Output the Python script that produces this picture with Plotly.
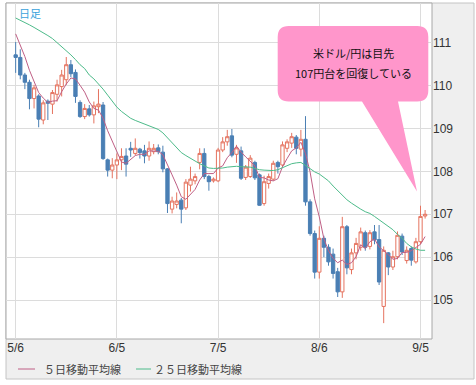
import plotly.graph_objects as go

# ---------------- data ----------------
dates = ["5/6","5/7","5/8","5/9","5/10","5/13","5/14","5/15","5/16","5/17",
         "5/20","5/21","5/22","5/23","5/24","5/27","5/28","5/29","5/30","5/31",
         "6/3","6/4","6/5","6/6","6/7","6/10","6/11","6/12","6/13","6/14",
         "6/17","6/18","6/19","6/20","6/21","6/24","6/25","6/26","6/27","6/28",
         "7/1","7/2","7/3","7/4","7/5","7/8","7/9","7/10","7/11","7/12",
         "7/15","7/16","7/17","7/18","7/19","7/22","7/23","7/24","7/25","7/26",
         "7/29","7/30","7/31","8/1","8/2","8/5","8/6","8/7","8/8","8/9",
         "8/12","8/13","8/14","8/15","8/16","8/19","8/20","8/21","8/22","8/23",
         "8/26","8/27","8/28","8/29","8/30","9/2","9/3","9/4","9/5","9/6"]

open_ = [110.72,110.66,110.25,110.08,109.70,109.76,109.20,109.64,109.57,109.80,
         109.98,110.14,110.49,110.31,109.61,109.28,109.46,109.32,109.51,109.55,
         108.27,108.03,108.15,108.27,108.36,108.54,108.42,108.52,108.48,108.36,
         108.46,108.55,108.45,108.06,107.12,107.23,107.33,107.15,107.68,107.78,
         108.21,108.42,107.88,107.78,107.78,108.50,108.69,108.83,108.40,108.48,
         107.86,107.88,108.21,107.92,107.25,107.72,107.82,108.21,108.15,108.54,
         108.66,108.80,108.52,108.75,107.29,106.55,105.65,106.44,106.23,106.07,
         105.66,105.19,106.71,105.71,106.10,106.23,106.57,106.25,106.59,106.41,
         104.85,106.10,105.77,106.01,106.49,105.92,106.20,105.89,106.36,106.96]
high = [111.02,110.85,110.30,110.14,110.02,109.80,109.66,109.68,109.90,110.14,
        110.37,110.67,110.60,110.38,109.66,109.57,109.55,109.63,109.92,109.62,
        108.30,108.31,108.42,108.54,108.54,108.69,108.77,108.55,108.62,108.70,
        108.64,108.63,108.60,108.08,107.41,107.51,107.38,107.82,108.11,107.95,
        108.54,108.54,107.92,107.86,108.55,108.80,108.97,108.99,108.62,108.58,
        108.15,108.38,108.25,107.95,107.90,107.95,108.25,108.25,108.70,108.75,
        108.90,108.85,108.97,109.29,107.35,106.62,106.72,106.50,106.30,106.20,
        105.75,106.94,106.75,106.20,106.45,106.69,106.62,106.63,106.75,106.75,
        106.25,106.12,106.15,106.60,106.55,106.25,106.25,106.45,107.20,107.10]
low = [110.30,110.15,109.92,109.45,109.47,109.03,109.10,109.20,109.34,109.63,
       109.75,110.02,110.20,109.60,109.25,109.22,109.28,109.12,109.36,108.27,
       107.88,107.84,107.82,108.03,107.88,108.34,108.38,108.30,108.19,108.25,
       108.40,108.40,107.98,107.03,107.02,107.14,106.79,107.10,107.53,107.70,
       108.05,107.82,107.55,107.74,107.75,108.45,108.60,108.33,108.20,107.80,
       107.80,107.85,107.80,107.20,107.20,107.60,107.78,107.95,108.10,108.45,
       108.55,108.40,108.35,107.20,106.50,105.50,105.50,106.00,105.80,105.50,
       105.07,105.05,105.60,105.60,105.95,106.15,106.15,106.18,106.30,105.35,
       104.46,105.58,105.70,105.95,106.05,105.85,105.80,105.85,106.30,106.90]
close = [110.66,110.25,110.08,109.70,109.95,109.22,109.60,109.59,109.84,110.02,
         110.25,110.49,110.28,109.75,109.28,109.47,109.32,109.53,109.57,108.30,
         108.03,108.15,108.27,108.35,108.17,108.50,108.54,108.44,108.36,108.54,
         108.54,108.46,108.06,107.25,107.31,107.31,107.12,107.75,107.82,107.88,
         108.42,107.88,107.76,107.82,108.50,108.69,108.81,108.38,108.55,107.84,
         108.10,108.31,107.85,107.21,107.76,107.88,108.19,108.11,108.62,108.69,
         108.81,108.54,108.75,107.29,106.55,105.65,106.44,106.23,105.89,105.62,
         105.19,106.71,105.75,106.10,106.32,106.59,106.23,106.57,106.40,105.42,
         106.16,105.77,106.01,106.51,106.12,106.16,105.93,106.36,106.95,107.00]

ma5 = [111.21,110.95,110.68,110.36,110.10,109.84,109.71,109.61,109.64,109.65,
       109.86,110.04,110.18,110.16,110.01,109.85,109.62,109.47,109.43,109.24,
       108.95,108.72,108.46,108.22,108.19,108.29,108.37,108.40,108.40,108.48,
       108.48,108.47,108.39,108.17,107.92,107.68,107.41,107.35,107.46,107.58,
       107.80,107.95,107.95,107.95,108.08,108.13,108.32,108.44,108.59,108.45,
       108.34,108.24,108.13,107.86,107.85,107.80,107.78,107.83,108.11,108.30,
       108.48,108.55,108.68,108.42,107.99,107.36,106.94,106.43,106.15,105.97,
       105.87,105.93,105.83,105.87,106.01,106.29,106.20,106.36,106.42,106.24,
       106.16,106.06,105.95,105.97,106.11,106.11,106.15,106.22,106.30,106.48]
ma25 = [111.58,111.53,111.48,111.42,111.36,111.30,111.24,111.17,111.10,111.01,
        110.92,110.82,110.72,110.61,110.49,110.40,110.25,110.16,110.05,109.92,
        109.78,109.64,109.50,109.40,109.31,109.24,109.19,109.15,109.11,109.07,
        109.03,108.98,108.90,108.78,108.66,108.55,108.44,108.37,108.30,108.24,
        108.18,108.13,108.08,108.07,108.07,108.08,108.10,108.11,108.12,108.11,
        108.11,108.10,108.07,108.04,108.03,108.02,108.02,108.04,108.09,108.14,
        108.18,108.20,108.21,108.14,108.06,107.99,107.94,107.86,107.78,107.66,
        107.55,107.45,107.34,107.26,107.18,107.12,107.06,107.02,106.95,106.87,
        106.81,106.73,106.64,106.53,106.44,106.32,106.24,106.19,106.16,106.16]

tick_dates = ["5/6", "6/5", "7/5", "8/6", "9/5"]
y_ticks = [105, 106, 107, 108, 109, 110, 111]
legend_names = ["５日移動平均線", "２５日移動平均線"]
ma_colors = ["#bf5f85", "#4dbb8a"]
callout_lines = ["米ドル/円は目先", "107円台を回復している"]
period_label = "日足"

# ---------------- layout geometry (pixels) ----------------
W, H = 476, 385
PL, PR, PT, PB = 6, 432, 3, 339  # plot area box


def px(x):
    return (x - PL) / (PR - PL)


def py(y):
    return (PB - y) / (PB - PT)


def P(x, y):
    return f"{px(x):.5f},{py(y):.5f}"


fig = go.Figure()
fig.add_trace(go.Candlestick(
    x=dates, open=open_, high=high, low=low, close=close,
    increasing=dict(line=dict(color="#e5735f", width=1), fillcolor="#ffffff"),
    decreasing=dict(line=dict(color="#4a7fb4", width=1), fillcolor="#4a7fb4"),
    showlegend=False, name="USD/JPY"))
fig.add_trace(go.Scatter(x=dates, y=ma5, mode="lines", name=legend_names[0],
                         line=dict(color=ma_colors[0], width=1), showlegend=False))
fig.add_trace(go.Scatter(x=dates, y=ma25, mode="lines", name=legend_names[1],
                         line=dict(color=ma_colors[1], width=1), showlegend=False))

shapes = [
    dict(type="rect", xref="paper", yref="paper", layer="below",
         x0=px(PL), x1=px(474), y0=py(379), y1=py(PT),
         fillcolor="#efefef", line=dict(color="#c4c4c4", width=1)),
    dict(type="rect", xref="paper", yref="paper", layer="below",
         x0=px(PL), x1=px(PR), y0=py(PB), y1=py(PT),
         fillcolor="#ffffff", line=dict(color="#a8a8a8", width=1)),
]

# callout bubble
bx0, bx1, by0, by1, r = 277.7, 428.3, 26, 101.5, 11
tail_l, tail_r, tip = 362, 398, (417, 191.5)
path = (f"M {P(bx0 + r, by0)} L {P(bx1 - r, by0)} Q {P(bx1, by0)} {P(bx1, by0 + r)} "
        f"L {P(bx1, by1 - r)} Q {P(bx1, by1)} {P(bx1 - r, by1)} "
        f"L {P(tail_r, by1)} L {P(tip[0], tip[1])} L {P(tail_l, by1)} "
        f"L {P(bx0 + r, by1)} Q {P(bx0, by1)} {P(bx0, by1 - r)} "
        f"L {P(bx0, by0 + r)} Q {P(bx0, by0)} {P(bx0 + r, by0)} Z")
shapes.append(dict(type="path", xref="paper", yref="paper", path=path,
                   fillcolor="#ff96cb", line=dict(width=0), layer="above"))

cjk = "Noto Sans CJK JP"
annotations = [
    dict(text=callout_lines[0], xref="paper", yref="paper", x=px(353), y=py(52.5),
         xanchor="center", yanchor="middle", showarrow=False,
         font=dict(family=cjk, size=11, color="#111111")),
    dict(text=callout_lines[1], xref="paper", yref="paper", x=px(353), y=py(72.5),
         xanchor="center", yanchor="middle", showarrow=False,
         font=dict(family=cjk, size=11, color="#111111")),
    dict(text=period_label, xref="paper", yref="paper", x=px(17), y=py(13),
         xanchor="left", yanchor="middle", showarrow=False,
         font=dict(family=cjk, size=11, color="#3aa2dc")),
]

# legend drawn as short line samples + labels
leg_line_x = [(18, 35), (136, 151)]
leg_text_x = [42, 152]
leg_y = 369
for (lx0, lx1), tx, name, col in zip(leg_line_x, leg_text_x, legend_names, ma_colors):
    shapes.append(dict(type="line", xref="paper", yref="paper",
                       x0=px(lx0), x1=px(lx1), y0=py(leg_y), y1=py(leg_y),
                       line=dict(color=col, width=1)))
    annotations.append(dict(text=name, xref="paper", yref="paper", x=px(tx), y=py(leg_y),
                            xanchor="left", yanchor="middle", showarrow=False,
                            font=dict(family=cjk, size=11, color="#444444")))

fig.update_layout(
    width=W, height=H,
    margin=dict(l=PL, r=W - PR, t=PT, b=H - PB, pad=0),
    paper_bgcolor="#ffffff", plot_bgcolor="rgba(0,0,0,0)",
    shapes=shapes, annotations=annotations,
    font=dict(family="Liberation Sans", size=12, color="#333333"),
    showlegend=False,
    boxgap=0.1, boxgroupgap=0.2,
    hovermode=False,
)
fig.update_xaxes(type="category", range=[-2.1, 90.5], tickmode="array",
                 tickvals=tick_dates, ticktext=tick_dates, showgrid=True,
                 gridcolor="#dcdcdc", gridwidth=1, zeroline=False, showline=False,
                 ticks="", rangeslider=dict(visible=False), automargin=False,
                 tickfont=dict(family="Liberation Sans", size=12, color="#333333"))
fig.update_yaxes(side="right", range=[104.09, 111.93], tickmode="array",
                 tickvals=y_ticks, ticktext=[str(v) for v in y_ticks],
                 showgrid=True, gridcolor="#dcdcdc", gridwidth=1, zeroline=False,
                 showline=False, ticks="", automargin=False,
                 tickfont=dict(family="Liberation Sans", size=12, color="#333333"))

fig.write_html("out.html", config={"displayModeBar": False},
               post_script="document.body.style.margin='0px';")
